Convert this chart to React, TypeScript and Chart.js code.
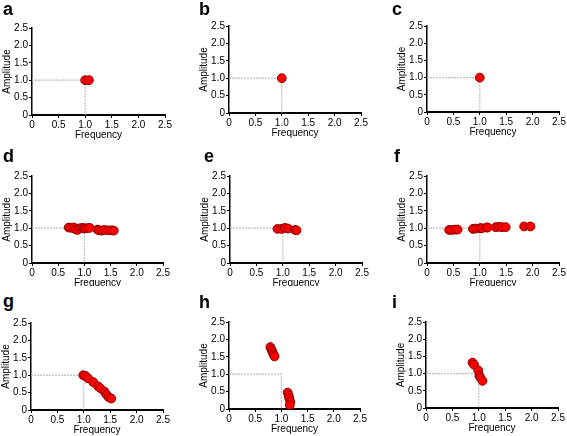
import React, { useEffect, useRef } from "react";
import { Chart, registerables } from "chart.js";

Chart.register(...registerables);
Chart.defaults.font.family = "'Liberation Sans', Arial, sans-serif";

// ---- data ----
const panelLabels = ["a", "b", "c", "d", "e", "f", "g", "h", "i"];
const axisMin = 0;
const axisMax = 2.5;
const axisStep = 0.5;
const xTitle = "Frequency";
const yTitle = "Amplitude";

// reference guide (0,1) -> (1,1) -> (1,0)
const refFreq = [0, 1, 1];
const refAmp = [1, 1, 0];

const freqA = [1.0, 1.07];
const ampA = [1.0, 1.0];

const freqB = [1.0];
const ampB = [1.0];

const freqC = [1.0];
const ampC = [1.0];

const freqD = [0.7, 0.75, 0.8, 0.83, 0.87, 0.92, 0.97, 1.0, 1.05, 1.1, 1.25, 1.28, 1.33, 1.38, 1.45, 1.52, 1.56];
const ampD = [1.02, 1.01, 1.02, 0.97, 0.95, 1.0, 1.01, 0.99, 1.0, 1.01, 0.96, 0.94, 0.93, 0.95, 0.94, 0.94, 0.93];

const freqE = [0.9, 0.98, 1.04, 1.1, 1.23, 1.26];
const ampE = [0.98, 0.98, 1.01, 0.99, 0.95, 0.94];

const freqF = [0.42, 0.47, 0.54, 0.58, 0.87, 0.92, 1.0, 1.04, 1.13, 1.15, 1.3, 1.36, 1.42, 1.49, 1.84, 1.96];
const ampF = [0.95, 0.95, 0.96, 0.96, 0.98, 0.99, 1.0, 1.0, 1.02, 1.02, 1.03, 1.04, 1.03, 1.03, 1.05, 1.05];

const freqG = [0.99, 1.03, 1.08, 1.18, 1.27, 1.31, 1.39, 1.43, 1.47, 1.52];
const ampG = [1.0, 0.98, 0.91, 0.8, 0.68, 0.63, 0.53, 0.44, 0.37, 0.33];

const freqH = [0.79, 0.81, 0.83, 0.85, 0.87, 1.12, 1.14, 1.15, 1.17, 1.16];
const ampH = [1.78, 1.71, 1.64, 1.56, 1.51, 0.47, 0.38, 0.3, 0.21, 0.11];

const freqI = [0.88, 0.91, 0.99, 1.01, 1.03, 1.07];
const ampI = [1.32, 1.26, 1.09, 0.94, 0.88, 0.79];

const panelFreq = [freqA, freqB, freqC, freqD, freqE, freqF, freqG, freqH, freqI];
const panelAmp = [ampA, ampB, ampC, ampD, ampE, ampF, ampG, ampH, ampI];

// ---- layout (plot area in page pixels) ----
type Box = { L: number; R: number; T: number; B: number; clipBottom?: number };
const plotBoxes: Box[] = [
  { L: 32, R: 165, T: 28, B: 115 },
  { L: 229, R: 361, T: 26, B: 113 },
  { L: 427, R: 559, T: 26, B: 112 },
  { L: 32, R: 163, T: 176, B: 263, clipBottom: 286 },
  { L: 230, R: 362, T: 176, B: 263, clipBottom: 286 },
  { L: 427, R: 559, T: 176, B: 263, clipBottom: 286 },
  { L: 31, R: 163, T: 323, B: 410 },
  { L: 229, R: 360, T: 322, B: 409 },
  { L: 426, R: 558, T: 322, B: 408 },
];
const labelPos = [
  { x: 3, base: 15 },
  { x: 199, base: 15 },
  { x: 392, base: 15 },
  { x: 3, base: 162 },
  { x: 204, base: 162 },
  { x: 394, base: 162 },
  { x: 3, base: 307 },
  { x: 199, base: 308 },
  { x: 392, base: 308 },
];

const Y_AXIS_W = 40;
const X_AXIS_H = 30;
const PAD_T = 12;
const PAD_R = 12;

function Panel({ freq, amp, box }: { freq: number[]; amp: number[]; box: Box }) {
  const ref = useRef<HTMLCanvasElement | null>(null);
  const cw = box.R - box.L + Y_AXIS_W + PAD_R;
  const ch = box.B - box.T + PAD_T + X_AXIS_H;
  const cl = box.L - Y_AXIS_W;
  const ct = box.T - PAD_T;
  const wrapH = box.clipBottom ? box.clipBottom - ct : ch;

  useEffect(() => {
    if (!ref.current) return;
    const tickFont = { size: 10 };
    const chart = new Chart(ref.current, {
      type: "scatter",
      data: {
        datasets: [
          {
            type: "line",
            data: refFreq.map((x, i) => ({ x, y: refAmp[i] })),
            borderColor: "#bdbdbd",
            borderWidth: 1.2,
            borderDash: [2, 1],
            pointRadius: 0,
            fill: false,
            showLine: true,
            order: 2,
          } as any,
          {
            data: freq.map((x, i) => ({ x, y: amp[i] })),
            backgroundColor: "#ff0000",
            borderColor: "#8a0000",
            borderWidth: 1,
            pointRadius: 4.4,
            order: 1,
          },
        ],
      },
      options: {
        animation: false,
        responsive: false,
        maintainAspectRatio: false,
        events: [],
        layout: { padding: { left: 0, top: PAD_T, right: PAD_R, bottom: 0 } },
        plugins: { legend: { display: false }, tooltip: { enabled: false } },
        scales: {
          x: {
            type: "linear",
            min: axisMin,
            max: axisMax,
            ticks: { stepSize: axisStep, color: "#000", font: tickFont, padding: 1, maxRotation: 0, autoSkip: false },
            grid: { display: true, drawOnChartArea: false, drawTicks: true, tickLength: 3, color: "#000", lineWidth: 1 },
            border: { display: true, color: "#000", width: 2 },
            title: { display: true, text: xTitle, color: "#000", font: { size: 10 }, padding: { top: 0, bottom: 4 } },
            afterFit: (s: any) => {
              s.height = X_AXIS_H;
            },
          },
          y: {
            type: "linear",
            min: axisMin,
            max: axisMax,
            ticks: { stepSize: axisStep, color: "#000", font: tickFont, padding: 1, autoSkip: false },
            grid: { display: true, drawOnChartArea: false, drawTicks: true, tickLength: 3, color: "#000", lineWidth: 1 },
            border: { display: true, color: "#000", width: 1.5 },
            title: { display: true, text: yTitle, color: "#000", font: { size: 10 }, padding: { top: 9, bottom: 0 } },
            afterFit: (s: any) => {
              s.width = Y_AXIS_W;
            },
          },
        },
      } as any,
    });
    return () => chart.destroy();
  }, [freq, amp]);

  return (
    <div style={{ position: "absolute", left: cl, top: ct, width: cw, height: wrapH, overflow: "hidden" }}>
      <canvas ref={ref} width={cw} height={ch} style={{ width: cw, height: ch, display: "block" }} />
    </div>
  );
}

export default function App() {
  return (
    <div
      style={{
        position: "absolute",
        left: 0,
        top: 0,
        width: 567,
        height: 436,
        background: "#fff",
        overflow: "hidden",
      }}
    >
      {plotBoxes.map((b, i) => (
        <Panel key={i} freq={panelFreq[i]} amp={panelAmp[i]} box={b} />
      ))}
      {panelLabels.map((t, i) => (
        <div
          key={"l" + i}
          style={{
            position: "absolute",
            left: labelPos[i].x,
            top: labelPos[i].base - 15,
            fontFamily: "'Liberation Sans', Arial, sans-serif",
            fontWeight: "bold",
            fontSize: 18,
            lineHeight: "18px",
            color: "#000",
          }}
        >
          {t}
        </div>
      ))}
    </div>
  );
}
